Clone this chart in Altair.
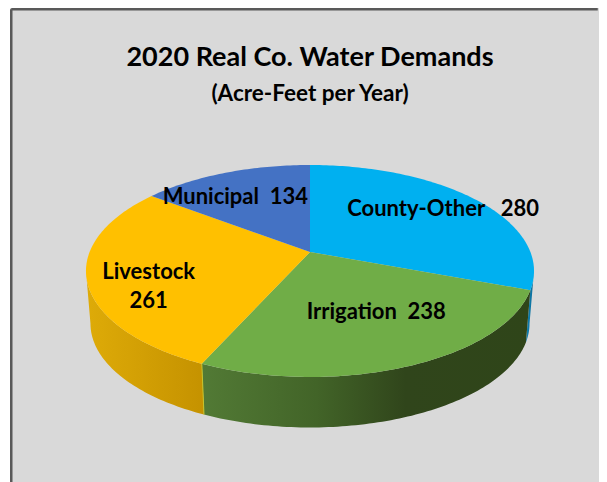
import math
import altair as alt
import pandas as pd

categories = ["County-Other", "Irrigation", "Livestock", "Municipal"]
demands = [280, 238, 261, 134]
colours = ["#00B0F0", "#70AD47", "#FFC000", "#4472C4"]

FONT = "Lato"
CX, CY, A, B, K = 310, 252, 220.4, 102.6, 0.179
BOTTOM_CY, BOTTOM_SCALE = 305, 0.98
WIDTH, HEIGHT = 589, 482


def project(deg, r=1.0, cy=CY, s=1.0):
    t = math.radians(deg)
    u, v = r * math.sin(t), -r * math.cos(t)
    d = 1 - K * v
    return CX + s * A * u / d, cy + s * B * v / d


def arc(a0, a1, cy=CY, s=1.0):
    n = max(2, int(abs(a1 - a0)) + 1)
    return [project(a0 + (a1 - a0) * i / (n - 1), 1.0, cy, s) for i in range(n)]


X = alt.X("x:Q", axis=None, scale=alt.Scale(domain=[10, 599], nice=False, zero=False))
Y = alt.Y("y:Q", axis=None, scale=alt.Scale(domain=[490, 8], nice=False, zero=False))


def polygon(points, fill):
    df = pd.DataFrame(points, columns=["x", "y"]).assign(i=lambda d: range(len(d)))
    return alt.Chart(df).mark_line(
        fill=fill, stroke=None, interpolate="linear-closed", strokeWidth=0
    ).encode(x=X, y=Y, order="i:Q")


def grad(*stops):
    return alt.Gradient(
        gradient="linear", x1=0, x2=1, y1=0, y2=0,
        stops=[alt.GradientStop(offset=o, color=c) for o, c in stops],
    )


total = sum(demands)
edges = [0]
for value in demands:
    edges.append(edges[-1] + value / total * 360)

right = math.degrees(math.acos(-K))
left = 360 - right
walls = [
    (right, edges[1], grad((0, "#0E7FB0"), (1, "#0C6F9C"))),
    (edges[2], left, grad((0, "#DEAB08"), (1, "#C59200"))),
    (edges[1], edges[2], grad((0, "#527A35"), (0.35, "#426428"), (0.62, "#30451B"), (1, "#2F4519"))),
]

layers = []
for a0, a1, fill in walls:
    layers.append(polygon(arc(a0, a1) + arc(a1, a0, BOTTOM_CY, BOTTOM_SCALE), fill))
layers.append(
    polygon(
        [project(edges[2]), project(edges[2], 1.0, BOTTOM_CY, BOTTOM_SCALE)], "#C9C42A"
    ).mark_line(stroke="#C9C42A", strokeWidth=1)
)
for i, colour in enumerate(colours):
    layers.append(polygon([(CX, CY)] + arc(edges[i], edges[i + 1]), colour))

label_style = [(0.75, 7, -2), (0.5, 20, 8), (0.7, -7, 2), (0.7, -13, 3)]
label_text = [
    "County-Other\u00a0\u00a0\u00a0280",
    "Irrigation\u00a0\u00a0238",
    "Livestock\n261",
    "Municipal\u00a0\u00a0134",
]
for i, (frac, dx, dy) in enumerate(label_style):
    px, py = project((edges[i] + edges[i + 1]) / 2, frac)
    df = pd.DataFrame({"x": [px], "y": [py], "t": [label_text[i]]})
    layers.append(
        alt.Chart(df).mark_text(
            font=FONT, fontWeight="bold", fontSize=22, color="#000000",
            dx=dx, dy=dy, lineBreak="\n", lineHeight=29, baseline="middle",
        ).encode(x=X, y=Y, text="t:N")
    )

frame = pd.DataFrame({"a": [0]})
layers.append(
    alt.Chart(frame).mark_rule(color="#595959", strokeWidth=2.5)
    .encode(x=alt.value(1.25), y=alt.value(1.25), y2=alt.value(HEIGHT - 1.25))
)
layers.append(
    alt.Chart(frame).mark_rule(color="#595959", strokeWidth=2.5)
    .encode(y=alt.value(1.25), x=alt.value(1.25), x2=alt.value(WIDTH - 1.25))
)

chart = (
    alt.layer(*layers)
    .properties(
        width=WIDTH,
        height=HEIGHT,
        padding={"left": 2, "top": 0, "right": 0, "bottom": 0},
        title=alt.TitleParams(
            text="2020 Real Co. Water Demands",
            subtitle="(Acre-Feet per Year)",
            font=FONT, fontWeight="bold", fontSize=27, color="#000000",
            subtitleFont=FONT, subtitleFontWeight="bold", subtitleFontSize=22.5,
            subtitleColor="#000000", subtitlePadding=11,
            anchor="middle", frame="group", offset=-98, dx=5.5,
        ),
    )
    .configure_view(fill="#D9D9D9", stroke=None)
)

chart.save("out.html", embed_options={"renderer": "svg", "actions": False})
